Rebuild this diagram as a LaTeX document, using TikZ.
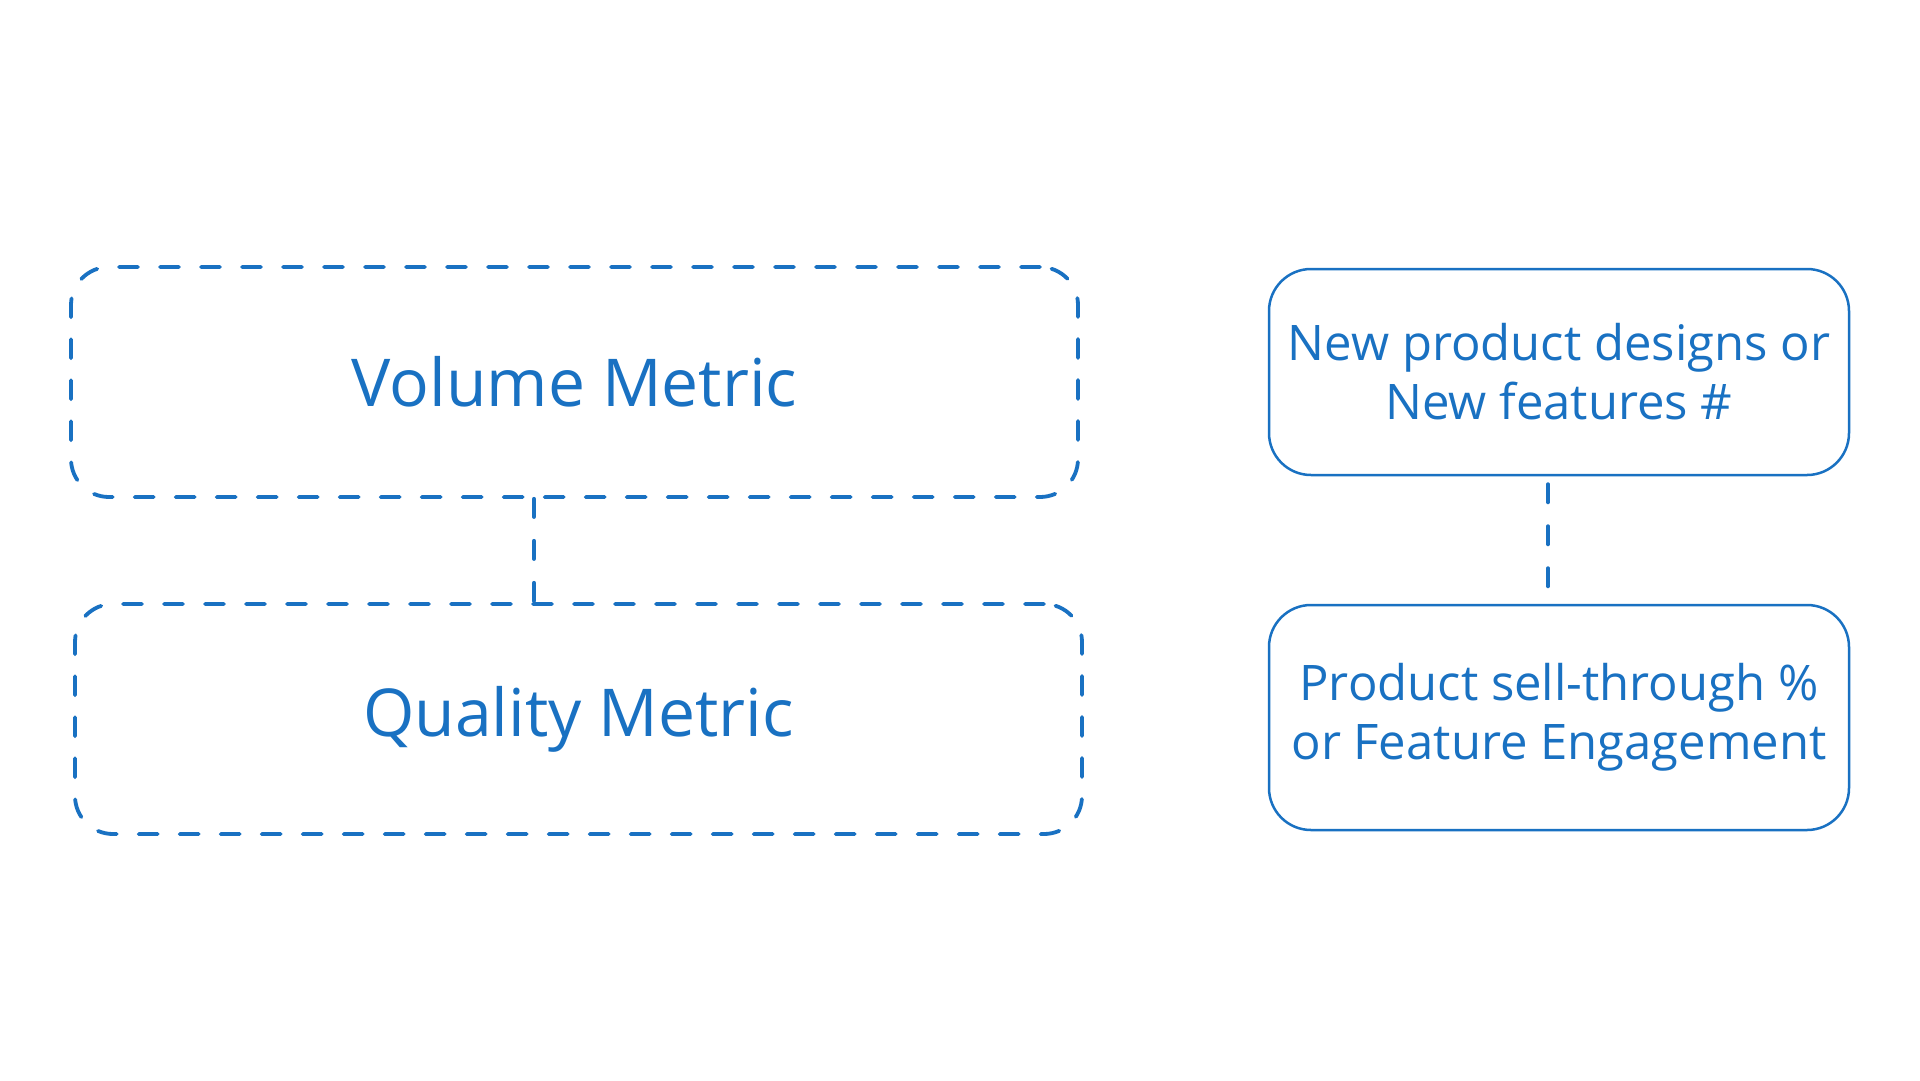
\documentclass[tikz,border=0pt]{standalone}
\usepackage{fontspec}
\setmainfont{Open Sans}
\definecolor{exblue}{HTML}{1971C2}
\begin{document}
\begin{tikzpicture}[x=1pt,y=-1pt,
 dbox/.style={draw=exblue, line width=3.8pt, dash pattern=on 19pt off 22pt, line cap=round, rounded corners=38pt, minimum width=1007pt, minimum height=230pt, text=exblue, font=\fontsize{66}{80}\selectfont, inner sep=0pt},
 sbox/.style={draw=exblue, line width=2.5pt, rounded corners=42pt, minimum width=580pt, text=exblue, font=\fontsize{49}{59}\selectfont, align=center, inner sep=0pt},
 link/.style={draw=exblue, line width=4pt, dash pattern=on 18pt off 24pt, line cap=round}]
\useasboundingbox[fill=white] (0,0) rectangle (1920,1080);
\node[dbox] (vol) at (574.5,382) {Volume Metric};
\node[dbox] (qual) at (578.5,719) {Quality Metric};
\node[sbox, minimum height=206pt] (new) at (1559,372) {New product designs or\\New features \#};
\node[sbox, minimum height=225pt] (sell) at (1559,717.5) {Product sell-through \%\\or Feature Engagement};
\draw[link] ([xshift=-40.5pt]vol.south) -- ([xshift=-44.5pt]qual.north);
\draw[link] ([xshift=-11pt,yshift=-8pt]new.south) -- ([xshift=-11pt,yshift=14pt]sell.north);
\end{tikzpicture}
\end{document}
